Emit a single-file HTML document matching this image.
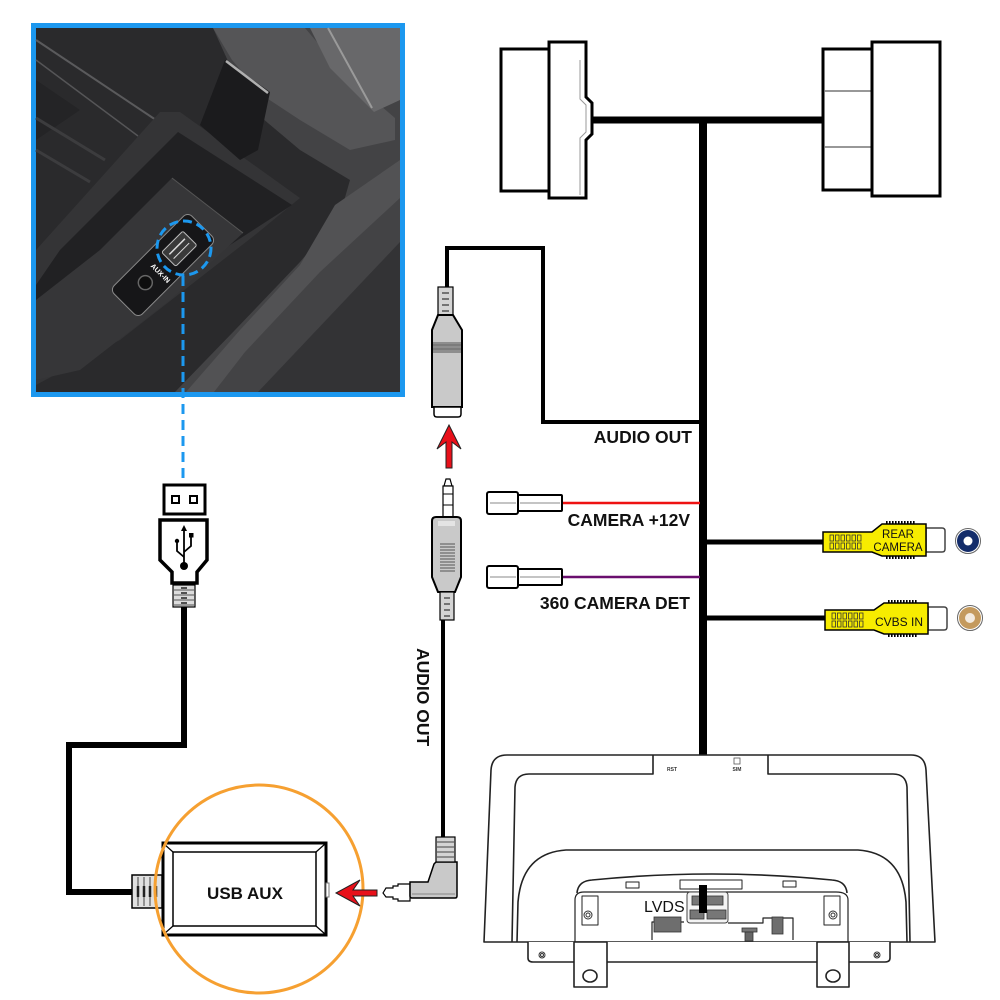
<!DOCTYPE html>
<html><head><meta charset="utf-8"><style>
html,body{margin:0;padding:0;background:#fff;}
svg{display:block;}
text{font-family:"Liberation Sans",Arial,sans-serif;}
</style></head><body>
<svg width="1000" height="1000" viewBox="0 0 1000 1000" xmlns="http://www.w3.org/2000/svg">
<rect width="1000" height="1000" fill="#fff"/>

<!-- ===== PHOTO ===== -->
<rect x="31" y="23" width="374" height="374" fill="#1c98ef"/>
<rect x="36" y="28" width="364" height="364" fill="#2a2a2c"/>
<polygon points="213,28 400,28 400,392 175,392 235,330 300,262 340,215 350,180 300,150 262,118 232,70" fill="#434345"/>
<polygon points="213,28 305,28 345,75 395,118 395,140 350,150 300,120 262,95 232,60" fill="#555557"/>
<polygon points="335,205 400,160 400,198 320,272 245,352 214,392 186,392 240,330 300,265" fill="#525254"/>
<polygon points="258,392 400,242 400,392" fill="#333335"/>
<polygon points="310,28 400,28 400,100 374,112 330,68" fill="#68686a"/>
<line x1="328" y1="28" x2="372" y2="108" stroke="#9a9a9a" stroke-width="2"/>
<!-- left ribs -->
<line x1="36" y1="40" x2="156" y2="120" stroke="#5a5a5c" stroke-width="2"/>
<line x1="36" y1="60" x2="138" y2="136" stroke="#555557" stroke-width="1.5"/>
<polygon points="36,80 80,110 36,140" fill="#242426"/>
<line x1="36" y1="118" x2="105" y2="160" stroke="#3c3c3e" stroke-width="3"/>
<line x1="36" y1="150" x2="90" y2="182" stroke="#3c3c3e" stroke-width="3"/>
<!-- tray -->
<polygon points="36,250 160,112 180,112 300,198 255,235 120,340 36,385" fill="#343436"/>
<polygon points="60,250 178,132 292,205 230,245 110,335 36,380 36,285" fill="#212123"/>
<polygon points="100,250 172,178 243,233 170,300 80,370 36,380 36,300" fill="#363638"/>
<line x1="172" y1="178" x2="243" y2="233" stroke="#555" stroke-width="1"/>
<!-- hook -->
<polygon points="225,60 270,92 258,150 240,160 200,125" fill="#1b1b1d"/>
<line x1="226" y1="61" x2="268" y2="93" stroke="#b0b0b0" stroke-width="2.5"/>
<!-- aux panel -->
<g transform="translate(163,265) rotate(-45)">
  <rect x="-55" y="-20" width="110" height="40" rx="6" fill="#161618" stroke="#8a8a8a" stroke-width="1"/>
  <rect x="8" y="-10" width="30" height="20" rx="2" fill="#3a3a3a" stroke="#bbb" stroke-width="1"/>
  <line x1="12" y1="-3" x2="34" y2="-3" stroke="#ddd" stroke-width="1.5"/>
  <line x1="12" y1="3" x2="34" y2="3" stroke="#ddd" stroke-width="1"/>
  <circle cx="-25" cy="0" r="7" fill="#0e0e0e" stroke="#666" stroke-width="1.5"/>
  <text x="-10" y="-8" font-size="7" fill="#fff" font-weight="bold" transform="rotate(90 -10 -8)">AUX-IN</text>
</g>
<circle cx="184" cy="248" r="27" fill="none" stroke="#1c98ef" stroke-width="3" stroke-dasharray="9 5"/>
<line x1="183" y1="276" x2="183" y2="484" stroke="#1c98ef" stroke-width="3" stroke-dasharray="10 6"/>

<!-- ===== USB PLUG ===== -->
<rect x="164" y="485" width="41" height="29" fill="#fff" stroke="#000" stroke-width="3"/>
<rect x="172" y="496" width="7" height="7" fill="#fff" stroke="#000" stroke-width="2"/>
<rect x="190" y="496" width="7" height="7" fill="#fff" stroke="#000" stroke-width="2"/>
<polygon points="160,520 207,520 207,560 197,572 197,583 172,583 172,572 160,560" fill="#fff" stroke="#000" stroke-width="3.5" stroke-linejoin="miter"/>
<g stroke="#000" stroke-width="1.8" fill="none">
  <line x1="184" y1="530" x2="184" y2="566"/>
  <polyline points="184,557 177,551 177,543"/>
  <polyline points="184,552 191,546 191,537"/>
</g>
<polygon points="184,525 181,531 187,531" fill="#000"/>
<circle cx="184" cy="566" r="4" fill="#000"/>
<circle cx="177" cy="541" r="2.2" fill="#000"/>
<rect x="189" y="533" width="4.5" height="4.5" fill="#000"/>
<rect x="173" y="585" width="22" height="22" fill="#dcdcdc" stroke="#000" stroke-width="1.2"/>
<g stroke="#555" stroke-width="1"><line x1="174" y1="590" x2="194" y2="590"/><line x1="174" y1="595" x2="194" y2="595"/><line x1="174" y1="600" x2="194" y2="600"/><line x1="174" y1="605" x2="194" y2="605"/></g>
<g stroke="#222" stroke-width="1.5"><line x1="181" y1="588" x2="187" y2="588"/><line x1="181" y1="593" x2="187" y2="593"/><line x1="181" y1="598" x2="187" y2="598"/><line x1="181" y1="603" x2="187" y2="603"/></g>
<path d="M184 607 V745 H69 V892 H132" fill="none" stroke="#000" stroke-width="6"/>

<!-- ===== USB AUX ===== -->
<rect x="132" y="875" width="30" height="33" fill="#e0e0e0" stroke="#000" stroke-width="1.5"/>
<g stroke="#444" stroke-width="1"><line x1="138" y1="877" x2="138" y2="906"/><line x1="144" y1="877" x2="144" y2="906"/><line x1="150" y1="877" x2="150" y2="906"/><line x1="156" y1="877" x2="156" y2="906"/></g>
<g stroke="#222" stroke-width="2.5"><line x1="138" y1="886" x2="138" y2="897"/><line x1="144" y1="886" x2="144" y2="897"/><line x1="150" y1="886" x2="150" y2="897"/><line x1="156" y1="886" x2="156" y2="897"/></g>
<rect x="163" y="843" width="163" height="92" fill="#fff" stroke="#000" stroke-width="3"/>
<rect x="173" y="852" width="143" height="74" fill="#fff" stroke="#000" stroke-width="1.5"/>
<g stroke="#000" stroke-width="1.2"><line x1="164" y1="844" x2="173" y2="852"/><line x1="325" y1="844" x2="316" y2="852"/><line x1="164" y1="934" x2="173" y2="926"/><line x1="325" y1="934" x2="316" y2="926"/></g>
<rect x="326" y="883" width="3" height="14" fill="#fff" stroke="#777" stroke-width="1"/>
<text x="245" y="899" font-size="17" font-weight="bold" text-anchor="middle" fill="#111">USB AUX</text>
<circle cx="259" cy="889" r="104" fill="none" stroke="#f6a031" stroke-width="3"/>
<!-- red left arrow -->
<polygon points="336,893 360,880 353,890 377,890 377,896 353,896 360,906" fill="#e8101a" stroke="#222" stroke-width="1"/>
<!-- right angle jack -->
<path d="M383 893 L386 888 L393 888 L393 886 L398 886 L398 884 L410 884 L410 901 L398 901 L398 899 L393 899 L393 897 L386 897 Z" fill="#fff" stroke="#000" stroke-width="1.2"/>
<path d="M410 882 L428 882 L434 864 L436 862 L457 862 L457 896 Q457 898 455 898 L412 898 Q410 898 410 896 Z" fill="#c9c9c9" stroke="#000" stroke-width="1.5"/>
<line x1="412" y1="894" x2="455" y2="894" stroke="#888" stroke-width="1"/>
<rect x="436" y="837" width="19" height="25" fill="#d4d4d4" stroke="#000" stroke-width="1.2"/>
<g stroke="#444" stroke-width="1"><line x1="437" y1="842" x2="454" y2="842"/><line x1="437" y1="847" x2="454" y2="847"/><line x1="437" y1="852" x2="454" y2="852"/><line x1="437" y1="857" x2="454" y2="857"/></g>
<line x1="443" y1="620" x2="443" y2="837" stroke="#000" stroke-width="4"/>
<text transform="translate(417,648) rotate(90)" font-size="17.5" font-weight="bold" fill="#111">AUDIO OUT</text>

<!-- straight male jack -->
<path d="M444 486 L446 479 L450 479 L452 486 Z" fill="#fff" stroke="#000" stroke-width="1.2"/>
<rect x="443" y="486" width="10" height="31" fill="#fff" stroke="#000" stroke-width="1.2"/>
<line x1="443" y1="494" x2="453" y2="494" stroke="#000" stroke-width="1"/>
<line x1="443" y1="505" x2="453" y2="505" stroke="#000" stroke-width="1"/>
<path d="M436 517 L457 517 Q461 517 461 521 L461 577 L455 592 L438 592 L432 577 L432 521 Q432 517 436 517 Z" fill="#c9c9c9" stroke="#000" stroke-width="2"/>
<rect x="438" y="521" width="17" height="5" fill="#e4e4e4"/>
<g stroke="#555" stroke-width="1">
<line x1="440" y1="544" x2="455" y2="544"/><line x1="440" y1="547" x2="455" y2="547"/><line x1="440" y1="550" x2="455" y2="550"/><line x1="440" y1="553" x2="455" y2="553"/><line x1="440" y1="556" x2="455" y2="556"/><line x1="440" y1="559" x2="455" y2="559"/><line x1="440" y1="562" x2="455" y2="562"/><line x1="440" y1="565" x2="455" y2="565"/><line x1="440" y1="568" x2="455" y2="568"/><line x1="440" y1="571" x2="455" y2="571"/>
</g>
<rect x="440" y="592" width="14" height="28" fill="#d4d4d4" stroke="#000" stroke-width="1.2"/>
<g stroke="#333" stroke-width="1.2"><line x1="444" y1="598" x2="450" y2="598"/><line x1="444" y1="604" x2="450" y2="604"/><line x1="444" y1="610" x2="450" y2="610"/><line x1="444" y1="616" x2="450" y2="616"/></g>

<!-- red up arrow -->
<polygon points="449,425 461,449 452,442 452,468 446,468 446,442 437,449" fill="#e8101a" stroke="#222" stroke-width="1"/>

<!-- female jack -->
<path d="M447 287 V248 H543 V422 H703" fill="none" stroke="#000" stroke-width="4"/>
<rect x="438" y="287" width="15" height="28" fill="#d4d4d4" stroke="#000" stroke-width="1.2"/>
<g stroke="#333" stroke-width="1.2"><line x1="442" y1="293" x2="449" y2="293"/><line x1="442" y1="299" x2="449" y2="299"/><line x1="442" y1="305" x2="449" y2="305"/><line x1="442" y1="311" x2="449" y2="311"/></g>
<path d="M438 315 L453 315 L462 330 L462 407 L432 407 L432 330 Z" fill="#c9c9c9" stroke="#000" stroke-width="2"/>
<rect x="433" y="342" width="28" height="11" fill="#8e8e8e"/>
<g stroke="#6a6a6a" stroke-width="1"><line x1="433" y1="345" x2="461" y2="345"/><line x1="433" y1="349" x2="461" y2="349"/></g>
<path d="M434 407 L461 407 L461 414 Q461 417 458 417 L437 417 Q434 417 434 414 Z" fill="#fff" stroke="#000" stroke-width="1.5"/>

<!-- ===== TOP CONNECTORS ===== -->
<rect x="501" y="49" width="48" height="142" fill="#fff" stroke="#000" stroke-width="3"/>
<path d="M549 42 H586 V97 L592 103 V134 L586 140 V198 H549 Z" fill="#fff" stroke="#000" stroke-width="3"/>
<path d="M580 60 V99 L586 105 V132 L580 138 V195" fill="none" stroke="#999" stroke-width="1"/>
<line x1="592" y1="120" x2="823" y2="120" stroke="#000" stroke-width="7"/>
<rect x="823" y="49" width="49" height="141" fill="#fff" stroke="#000" stroke-width="3"/>
<line x1="824" y1="91" x2="871" y2="91" stroke="#777" stroke-width="1.5"/>
<line x1="824" y1="147" x2="871" y2="147" stroke="#777" stroke-width="1.5"/>
<rect x="872" y="42" width="68" height="154" fill="#fff" stroke="#000" stroke-width="3"/>
<!-- trunk -->
<line x1="703" y1="120" x2="703" y2="913" stroke="#000" stroke-width="8"/>

<!-- labels -->
<text x="692" y="443" font-size="17.5" font-weight="bold" text-anchor="end" fill="#111">AUDIO OUT</text>

<!-- camera +12V -->
<line x1="562" y1="503" x2="700" y2="503" stroke="#ee1111" stroke-width="2.5"/>
<rect x="487" y="492" width="31" height="22" rx="2" fill="#fff" stroke="#000" stroke-width="2"/>
<rect x="518" y="495" width="44" height="16" rx="1" fill="#fff" stroke="#000" stroke-width="2"/>
<line x1="490" y1="503" x2="516" y2="503" stroke="#888" stroke-width="1"/>
<line x1="520" y1="503" x2="560" y2="503" stroke="#888" stroke-width="1"/>
<text x="690" y="526" font-size="17.5" font-weight="bold" text-anchor="end" fill="#111">CAMERA +12V</text>

<!-- 360 det -->
<line x1="562" y1="577" x2="700" y2="577" stroke="#6a0f6e" stroke-width="2.5"/>
<rect x="487" y="566" width="31" height="22" rx="2" fill="#fff" stroke="#000" stroke-width="2"/>
<rect x="518" y="569" width="44" height="16" rx="1" fill="#fff" stroke="#000" stroke-width="2"/>
<line x1="490" y1="577" x2="516" y2="577" stroke="#888" stroke-width="1"/>
<line x1="520" y1="577" x2="560" y2="577" stroke="#888" stroke-width="1"/>
<text x="690" y="609" font-size="17.5" font-weight="bold" text-anchor="end" fill="#111">360 CAMERA DET</text>

<!-- ===== RCA ===== -->
<line x1="703" y1="542" x2="824" y2="542" stroke="#000" stroke-width="5"/>
<line x1="703" y1="618" x2="826" y2="618" stroke="#000" stroke-width="5"/>
<!-- rear camera -->
<path d="M926 528 H942 Q945 528 945 531 V549 Q945 552 942 552 H926 Z" fill="#fff" stroke="#444" stroke-width="1.5"/>
<line x1="886" y1="522.5" x2="915" y2="522.5" stroke="#000" stroke-width="3" stroke-dasharray="1.6 1.4"/>
<line x1="886" y1="557.5" x2="915" y2="557.5" stroke="#000" stroke-width="3" stroke-dasharray="1.6 1.4"/>
<path d="M823 532 H872 L882 524 H926 V556 H882 L872 552 H823 Z" fill="#f7ec00" stroke="#000" stroke-width="1.5"/>
<g fill="none" stroke="#333" stroke-width="0.8">
<rect x="830" y="535" width="3.5" height="6"/><rect x="835.5" y="535" width="3.5" height="6"/><rect x="841" y="535" width="3.5" height="6"/><rect x="846.5" y="535" width="3.5" height="6"/><rect x="852" y="535" width="3.5" height="6"/><rect x="857.5" y="535" width="3.5" height="6"/>
<rect x="830" y="543" width="3.5" height="6"/><rect x="835.5" y="543" width="3.5" height="6"/><rect x="841" y="543" width="3.5" height="6"/><rect x="846.5" y="543" width="3.5" height="6"/><rect x="852" y="543" width="3.5" height="6"/><rect x="857.5" y="543" width="3.5" height="6"/>
</g>
<text x="898" y="538" font-size="11.5" text-anchor="middle" fill="#111">REAR</text>
<text x="898" y="551" font-size="11.5" text-anchor="middle" fill="#111">CAMERA</text>
<circle cx="968" cy="541" r="12.5" fill="#fff" stroke="#666" stroke-width="1"/>
<circle cx="968" cy="541" r="11" fill="#132c6a"/>
<circle cx="968" cy="541" r="4.5" fill="#fff"/>
<!-- cvbs -->
<path d="M928 607 H944 Q947 607 947 610 V627 Q947 630 944 630 H928 Z" fill="#fff" stroke="#444" stroke-width="1.5"/>
<line x1="888" y1="601.5" x2="917" y2="601.5" stroke="#000" stroke-width="3" stroke-dasharray="1.6 1.4"/>
<line x1="888" y1="635.5" x2="917" y2="635.5" stroke="#000" stroke-width="3" stroke-dasharray="1.6 1.4"/>
<path d="M825 610 H874 L884 603 H928 V634 H884 L874 630 H825 Z" fill="#f7ec00" stroke="#000" stroke-width="1.5"/>
<g fill="none" stroke="#333" stroke-width="0.8">
<rect x="832" y="613" width="3.5" height="6"/><rect x="837.5" y="613" width="3.5" height="6"/><rect x="843" y="613" width="3.5" height="6"/><rect x="848.5" y="613" width="3.5" height="6"/><rect x="854" y="613" width="3.5" height="6"/><rect x="859.5" y="613" width="3.5" height="6"/>
<rect x="832" y="621" width="3.5" height="6"/><rect x="837.5" y="621" width="3.5" height="6"/><rect x="843" y="621" width="3.5" height="6"/><rect x="848.5" y="621" width="3.5" height="6"/><rect x="854" y="621" width="3.5" height="6"/><rect x="859.5" y="621" width="3.5" height="6"/>
</g>
<text x="899" y="626" font-size="12" text-anchor="middle" fill="#111">CVBS IN</text>
<circle cx="970" cy="618" r="12.5" fill="#fff" stroke="#666" stroke-width="1"/>
<circle cx="970" cy="618" r="11" fill="#c49a5e"/>
<circle cx="970" cy="618" r="5" fill="#f3ebe0"/>

<!-- ===== MONITOR ===== -->
<g fill="none" stroke="#222" stroke-width="1.6" stroke-linejoin="round">
<path d="M484 942 L491 770 Q492 755 507 755 L911 755 Q925 755 926 770 L935 942 Z" fill="#fff"/>
<path d="M512 942 L515 787 Q516 774 529 774 L653 774 L653 755 M768 755 L768 774 L893 774 Q906 774 907 787 L910 942"/>
<path d="M517 942 L518 902 Q522 853 566 850 L858 850 Q902 853 906 902 L907 942"/>
<path d="M577 893 Q578 881 592 880 Q712 868 832 880 Q846 881 847 893"/>
<path d="M575 942 L575 900 Q575 892 584 892 L836 892 Q848 892 848 900 L848 942" stroke-width="1.2"/>
<path d="M582 896 L598 896 L598 925 L582 925 Z M824 896 L840 896 L840 925 L824 925 Z" stroke-width="1"/>
<path d="M652 940 V922 H684 M728 923 H763 V918 H793 V940" stroke-width="1.2"/>
<rect x="626" y="882" width="13" height="6" stroke-width="1"/>
<rect x="680" y="880" width="62" height="9" stroke-width="1"/>
<rect x="783" y="881" width="13" height="6" stroke-width="1"/>
<path d="M528 942 V958 Q528 962 533 962 H885 Q890 962 890 958 V942" fill="#fff"/>
<rect x="574" y="942" width="33" height="45" fill="#fff"/>
<ellipse cx="590" cy="976" rx="7" ry="6"/>
<rect x="817" y="942" width="32" height="45" fill="#fff"/>
<ellipse cx="833" cy="976" rx="7" ry="6"/>
</g>
<g fill="none" stroke="#333" stroke-width="1">
<circle cx="588" cy="915" r="4"/><circle cx="588" cy="915" r="2"/>
<circle cx="833" cy="915" r="4"/><circle cx="833" cy="915" r="2"/>
<circle cx="542" cy="955" r="3"/><circle cx="542" cy="955" r="1.5"/>
<circle cx="877" cy="955" r="3"/><circle cx="877" cy="955" r="1.5"/>
</g>
<rect x="654" y="917" width="27" height="15" fill="#6e6e6e" stroke="#333" stroke-width="0.8"/>
<rect x="742" y="928" width="15" height="4" fill="#777" stroke="#333" stroke-width="0.8"/>
<rect x="745" y="932" width="8" height="9" fill="#666" stroke="#333" stroke-width="0.8"/>
<rect x="772" y="917" width="11" height="17" fill="#6e6e6e" stroke="#333" stroke-width="0.8"/>
<rect x="687" y="892" width="41" height="31" rx="3" fill="#f4f4f4" stroke="#444" stroke-width="1"/>
<rect x="692" y="896" width="31" height="9" fill="#777" stroke="#333" stroke-width="0.8"/>
<rect x="690" y="910" width="14" height="9" fill="#777" stroke="#333" stroke-width="0.8"/>
<rect x="707" y="910" width="19" height="9" fill="#777" stroke="#333" stroke-width="0.8"/>
<line x1="703" y1="885" x2="703" y2="913" stroke="#000" stroke-width="8"/>
<text x="644" y="912" font-size="16" fill="#111">LVDS</text>
<text x="672" y="771" font-size="5" font-weight="bold" text-anchor="middle" fill="#333">RST</text>
<text x="737" y="771" font-size="5" font-weight="bold" text-anchor="middle" fill="#333">SIM</text>
<rect x="734" y="758" width="6" height="6" fill="none" stroke="#555" stroke-width="0.8"/>
</svg>
</body></html>
